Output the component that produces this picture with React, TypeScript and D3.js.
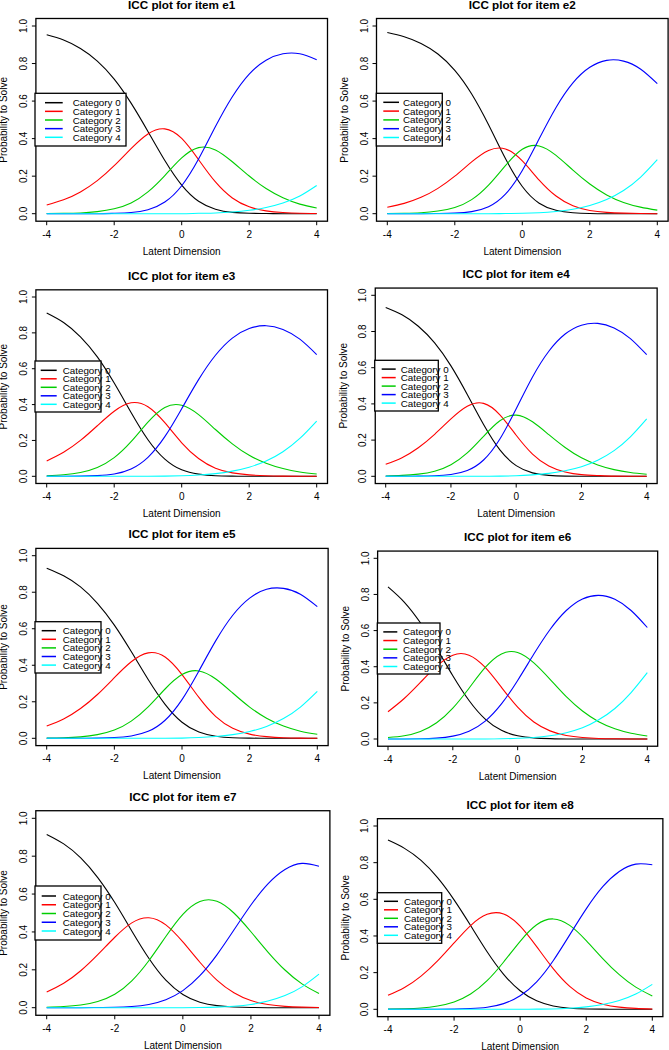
import React from "react";
import * as d3 from "d3";

// ---------- data ----------
const latent = [-4, -3.5, -3, -2.5, -2, -1.5, -1, -0.5, 0, 0.5, 1, 1.5, 2, 2.5, 3, 3.5, 4];

const categories = ["Category 0", "Category 1", "Category 2", "Category 3", "Category 4"];
const categoryColors = ["#000000", "#FF0000", "#00CD00", "#0000FF", "#00FFFF"];
const itemNames = ["e1", "e2", "e3", "e4", "e5", "e6", "e7", "e8"];
const xTicks = [-4, -2, 0, 2, 4];
const yTicks = [0, 0.2, 0.4, 0.6, 0.8, 1.0];
const yTickLabels = ["0.0", "0.2", "0.4", "0.6", "0.8", "1.0"];

const itemE1 = [
  [0.953, 0.925, 0.88, 0.813, 0.717, 0.589, 0.438, 0.283, 0.152, 0.066, 0.024, 0.007, 0.002, 0.001, 0, 0, 0],
  [0.046, 0.074, 0.116, 0.176, 0.256, 0.347, 0.425, 0.452, 0.401, 0.288, 0.169, 0.084, 0.037, 0.015, 0.006, 0.002, 0.001],
  [0.001, 0.002, 0.004, 0.011, 0.026, 0.057, 0.116, 0.203, 0.297, 0.352, 0.34, 0.277, 0.201, 0.134, 0.085, 0.051, 0.03],
  [0, 0, 0, 0, 0.002, 0.006, 0.021, 0.062, 0.149, 0.291, 0.464, 0.623, 0.744, 0.818, 0.852, 0.852, 0.82],
  [0, 0, 0, 0, 0, 0, 0, 0, 0, 0.002, 0.004, 0.009, 0.018, 0.033, 0.057, 0.094, 0.15],
];
const itemE2 = [
  [0.965, 0.943, 0.907, 0.851, 0.764, 0.638, 0.474, 0.294, 0.145, 0.056, 0.018, 0.005, 0.001, 0, 0, 0, 0],
  [0.034, 0.055, 0.087, 0.135, 0.2, 0.276, 0.337, 0.345, 0.281, 0.179, 0.094, 0.042, 0.017, 0.007, 0.003, 0.001, 0],
  [0.001, 0.002, 0.005, 0.014, 0.033, 0.075, 0.152, 0.256, 0.343, 0.361, 0.311, 0.232, 0.158, 0.1, 0.06, 0.035, 0.019],
  [0, 0, 0, 0.001, 0.003, 0.011, 0.037, 0.104, 0.23, 0.399, 0.566, 0.697, 0.78, 0.817, 0.813, 0.771, 0.693],
  [0, 0, 0, 0, 0, 0, 0, 0.001, 0.002, 0.005, 0.012, 0.024, 0.044, 0.076, 0.124, 0.194, 0.288],
];
const itemE3 = [
  [0.911, 0.858, 0.778, 0.666, 0.52, 0.356, 0.204, 0.096, 0.036, 0.012, 0.003, 0.001, 0, 0, 0, 0, 0],
  [0.086, 0.134, 0.2, 0.282, 0.363, 0.41, 0.388, 0.299, 0.187, 0.099, 0.045, 0.019, 0.008, 0.003, 0.001, 0, 0],
  [0.003, 0.009, 0.021, 0.049, 0.104, 0.193, 0.302, 0.384, 0.396, 0.344, 0.261, 0.181, 0.117, 0.073, 0.043, 0.024, 0.013],
  [0, 0, 0.001, 0.004, 0.013, 0.041, 0.106, 0.221, 0.377, 0.539, 0.675, 0.771, 0.824, 0.84, 0.819, 0.765, 0.679],
  [0, 0, 0, 0, 0, 0, 0, 0.001, 0.003, 0.007, 0.015, 0.029, 0.051, 0.085, 0.137, 0.211, 0.308],
];
const itemE4 = [
  [0.933, 0.892, 0.829, 0.737, 0.61, 0.452, 0.286, 0.146, 0.059, 0.019, 0.005, 0.001, 0, 0, 0, 0, 0],
  [0.066, 0.103, 0.158, 0.232, 0.317, 0.387, 0.403, 0.34, 0.227, 0.123, 0.057, 0.024, 0.009, 0.004, 0.001, 0, 0],
  [0.002, 0.005, 0.012, 0.028, 0.064, 0.129, 0.221, 0.307, 0.338, 0.301, 0.23, 0.159, 0.102, 0.063, 0.037, 0.021, 0.011],
  [0, 0, 0.001, 0.003, 0.01, 0.032, 0.09, 0.206, 0.373, 0.549, 0.691, 0.786, 0.835, 0.845, 0.82, 0.761, 0.672],
  [0, 0, 0, 0, 0, 0, 0, 0.001, 0.003, 0.008, 0.016, 0.031, 0.053, 0.089, 0.142, 0.218, 0.317],
];
const itemE5 = [
  [0.931, 0.89, 0.829, 0.739, 0.62, 0.475, 0.322, 0.186, 0.088, 0.034, 0.011, 0.003, 0.001, 0, 0, 0, 0],
  [0.067, 0.106, 0.163, 0.24, 0.332, 0.419, 0.468, 0.445, 0.349, 0.224, 0.119, 0.055, 0.023, 0.009, 0.003, 0.001, 0],
  [0.001, 0.003, 0.008, 0.02, 0.045, 0.094, 0.172, 0.27, 0.349, 0.369, 0.325, 0.248, 0.171, 0.11, 0.067, 0.039, 0.022],
  [0, 0, 0, 0.001, 0.004, 0.013, 0.038, 0.099, 0.212, 0.369, 0.535, 0.674, 0.768, 0.816, 0.821, 0.789, 0.721],
  [0, 0, 0, 0, 0, 0, 0, 0, 0.001, 0.004, 0.01, 0.02, 0.037, 0.065, 0.108, 0.171, 0.257],
];
const itemE6 = [
  [0.842, 0.758, 0.643, 0.502, 0.35, 0.213, 0.11, 0.048, 0.018, 0.006, 0.002, 0, 0, 0, 0, 0, 0],
  [0.151, 0.224, 0.313, 0.403, 0.464, 0.464, 0.396, 0.286, 0.176, 0.094, 0.045, 0.019, 0.008, 0.003, 0.001, 0, 0],
  [0.008, 0.018, 0.042, 0.09, 0.171, 0.281, 0.396, 0.471, 0.479, 0.421, 0.33, 0.234, 0.155, 0.096, 0.057, 0.032, 0.017],
  [0, 0, 0.001, 0.005, 0.016, 0.043, 0.099, 0.194, 0.324, 0.47, 0.606, 0.711, 0.775, 0.795, 0.773, 0.711, 0.617],
  [0, 0, 0, 0, 0, 0, 0, 0.001, 0.004, 0.008, 0.018, 0.035, 0.062, 0.106, 0.169, 0.257, 0.367],
];
const itemE7 = [
  [0.915, 0.865, 0.791, 0.687, 0.555, 0.405, 0.261, 0.145, 0.07, 0.029, 0.011, 0.004, 0.001, 0, 0, 0, 0],
  [0.083, 0.129, 0.195, 0.28, 0.372, 0.448, 0.475, 0.437, 0.347, 0.24, 0.146, 0.079, 0.038, 0.017, 0.007, 0.003, 0.001],
  [0.002, 0.006, 0.014, 0.033, 0.071, 0.142, 0.248, 0.376, 0.493, 0.561, 0.562, 0.5, 0.401, 0.294, 0.199, 0.126, 0.075],
  [0, 0, 0, 0.001, 0.002, 0.006, 0.017, 0.042, 0.09, 0.169, 0.279, 0.41, 0.542, 0.654, 0.73, 0.762, 0.747],
  [0, 0, 0, 0, 0, 0, 0, 0, 0, 0.001, 0.003, 0.008, 0.017, 0.035, 0.064, 0.11, 0.177],
];
const itemE8 = [
  [0.923, 0.878, 0.812, 0.718, 0.597, 0.457, 0.314, 0.191, 0.101, 0.046, 0.018, 0.006, 0.002, 0.001, 0, 0, 0],
  [0.076, 0.119, 0.181, 0.264, 0.362, 0.457, 0.518, 0.52, 0.454, 0.342, 0.222, 0.125, 0.062, 0.028, 0.012, 0.005, 0.002],
  [0.001, 0.003, 0.007, 0.018, 0.04, 0.083, 0.156, 0.258, 0.371, 0.461, 0.493, 0.458, 0.375, 0.277, 0.189, 0.121, 0.073],
  [0, 0, 0, 0, 0.001, 0.004, 0.011, 0.031, 0.074, 0.15, 0.265, 0.406, 0.548, 0.669, 0.752, 0.792, 0.789],
  [0, 0, 0, 0, 0, 0, 0, 0, 0, 0.001, 0.002, 0.006, 0.013, 0.026, 0.048, 0.083, 0.136],
];
const itemCurves = [itemE1, itemE2, itemE3, itemE4, itemE5, itemE6, itemE7, itemE8];

// ---------- layout (pixel geometry of each panel) ----------
const panels = [
  { x0: 46.7, x1: 316.7, y0: 213.7, y1: 26, lg: { l: 35, t: 93.3, w: 91, h: 52.7, lx1: 10, lx2: 27.7, tx: 37.7, r0: 9.4, dr: 8.65 } },
  { x0: 387.3, x1: 657.3, y0: 213.7, y1: 26, lg: { l: 376.3, t: 93.3, w: 66, h: 52.7, lx1: 7, lx2: 22.7, tx: 26.7, r0: 9, dr: 8.8 } },
  { x0: 46.7, x1: 316.7, y0: 476.3, y1: 297, lg: { l: 35, t: 361, w: 66, h: 51, lx1: 5.7, lx2: 21.7, tx: 27.7, r0: 9.3, dr: 8.5 } },
  { x0: 385.7, x1: 646.7, y0: 476.3, y1: 295.3, lg: { l: 374.7, t: 360.3, w: 63.6, h: 50.7, lx1: 7, lx2: 21, tx: 26, r0: 8.8, dr: 8.5 } },
  { x0: 46.7, x1: 317.3, y0: 738.3, y1: 555.7, lg: { l: 35, t: 621.7, w: 66, h: 51.3, lx1: 6.7, lx2: 21, tx: 27.7, r0: 9, dr: 8.6 } },
  { x0: 388, x1: 647.3, y0: 739, y1: 558.3, lg: { l: 377.3, t: 623, w: 62.7, h: 51, lx1: 6, lx2: 20, tx: 25.7, r0: 8.9, dr: 8.65 } },
  { x0: 46.7, x1: 319, y0: 1007.7, y1: 818.3, lg: { l: 35, t: 886, w: 66, h: 54, lx1: 6.7, lx2: 21, tx: 27.7, r0: 10, dr: 8.75 } },
  { x0: 388, x1: 652.3, y0: 1009.3, y1: 826, lg: { l: 377.3, t: 892.7, w: 64.4, h: 50.6, lx1: 6.7, lx2: 20.7, tx: 26.7, r0: 8.6, dr: 8.5 } },
];

const FONT = "'Liberation Sans', Arial, Helvetica, sans-serif";

function Panel({ idx }: { idx: number }) {
  const p = panels[idx];
  const x = d3.scaleLinear().domain([-4, 4]).range([p.x0, p.x1]);
  const y = d3.scaleLinear().domain([0, 1]).range([p.y0, p.y1]);
  const L = x(-4.32), R = x(4.32), T = y(1.04), B = y(-0.04);
  const line = d3
    .line<number>()
    .x((_, i) => x(latent[i]))
    .y((v) => y(v))
    .curve(d3.curveNatural);
  const curves = itemCurves[idx];
  const lg = p.lg;
  const tick = 4;
  return (
    <g>
      <text x={(L + R) / 2} y={T - 10} textAnchor="middle" fontFamily={FONT} fontWeight="bold" fontSize={11.7} fill="#000">
        {`ICC plot for item ${itemNames[idx]}`}
      </text>
      {curves.map((vals, k) => (
        <path key={k} d={line(vals) || ""} fill="none" stroke={categoryColors[k]} strokeWidth={1.1} />
      ))}
      <rect x={L} y={T} width={R - L} height={B - T} fill="none" stroke="#000" strokeWidth={1.3} />
      {xTicks.map((t) => (
        <g key={"x" + t}>
          <line x1={x(t)} x2={x(t)} y1={B} y2={B + tick} stroke="#000" strokeWidth={1} />
          <text x={x(t)} y={B + 16.5} textAnchor="middle" fontFamily={FONT} fontSize={10} fill="#000">
            {String(t)}
          </text>
        </g>
      ))}
      {yTicks.map((t, i) => (
        <g key={"y" + t}>
          <line x1={L - tick} x2={L} y1={y(t)} y2={y(t)} stroke="#000" strokeWidth={1} />
          <text
            transform={`translate(${L - 9},${y(t)}) rotate(-90)`}
            textAnchor="middle"
            fontFamily={FONT}
            fontSize={10}
            fill="#000"
          >
            {yTickLabels[i]}
          </text>
        </g>
      ))}
      <text x={(L + R) / 2} y={B + 33.5} textAnchor="middle" fontFamily={FONT} fontSize={10} fill="#000">
        Latent Dimension
      </text>
      <text
        transform={`translate(${L - 28.5},${(T + B) / 2}) rotate(-90)`}
        textAnchor="middle"
        fontFamily={FONT}
        fontSize={10}
        fill="#000"
      >
        Probability to Solve
      </text>
      <rect x={lg.l} y={lg.t} width={lg.w} height={lg.h} fill="#fff" stroke="#000" strokeWidth={1.3} />
      {categories.map((c, k) => {
        const ry = lg.t + lg.r0 + k * lg.dr;
        return (
          <g key={c}>
            <line x1={lg.l + lg.lx1} x2={lg.l + lg.lx2} y1={ry} y2={ry} stroke={categoryColors[k]} strokeWidth={1.5} />
            <text x={lg.l + lg.tx} y={ry + 3.5} fontFamily={FONT} fontSize={9.8} fill="#000">
              {c}
            </text>
          </g>
        );
      })}
    </g>
  );
}

export default function App() {
  return (
    <svg
      width={669}
      height={1050}
      viewBox="0 0 669 1050"
      style={{ position: "absolute", left: 0, top: 0, background: "#fff" }}
    >
      <rect x={0} y={0} width={669} height={1050} fill="#fff" />
      {panels.map((_, i) => (
        <Panel key={i} idx={i} />
      ))}
    </svg>
  );
}
